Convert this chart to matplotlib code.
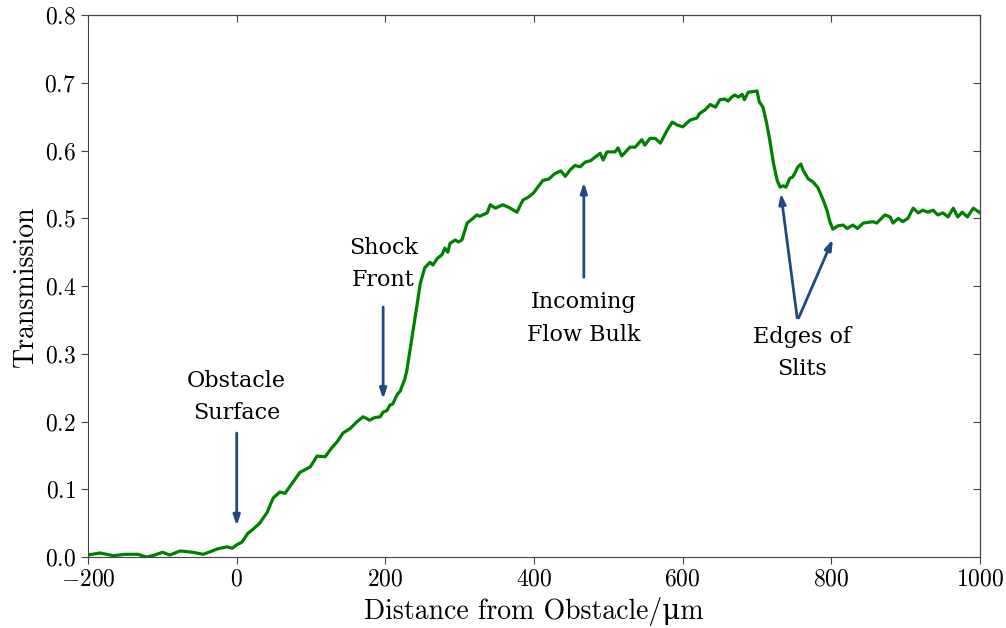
import matplotlib
matplotlib.use("Agg")
import matplotlib.pyplot as plt

plt.rcParams['font.family'] = ['cmr10', 'DejaVu Serif']
plt.rcParams['mathtext.fontset'] = 'cm'
plt.rcParams['axes.formatter.use_mathtext'] = True

# transmission profile along the flow axis
distance = [-200, -184, -166, -150, -133, -121, -110, -100, -90, -76, -59, -45,
            -26, -13, -6, 0, 7, 15, 23, 31, 41, 49, 58, 65, 76, 85, 99, 108,
            119, 127, 135, 143, 153, 162, 170, 179, 186, 193, 197, 202, 206,
            210, 216, 220, 222, 226, 229, 236, 243, 247, 253, 260, 264, 270,
            276, 280, 284, 287, 294, 298, 303, 310, 318, 323, 327, 337, 341,
            348, 358, 368, 377, 385, 392, 399, 405, 412, 420, 428, 436, 442,
            449, 455, 462, 469, 476, 482, 489, 493, 498, 509, 513, 518, 529,
            536, 545, 549, 556, 563, 570, 579, 586, 592, 600, 610, 619, 623,
            630, 637, 644, 650, 657, 661, 666, 670, 675, 680, 683, 688, 700,
            703, 708, 713, 717, 722, 727, 731, 735, 739, 744, 748, 751, 755,
            759, 762, 769, 775, 782, 789, 794, 798, 802, 809, 816, 821, 829,
            835, 843, 856, 861, 872, 879, 883, 890, 896, 903, 910, 917, 923,
            930, 937, 943, 950, 957, 964, 970, 976, 983, 991, 1000]
transmission = [0.003, 0.006, 0.002, 0.004, 0.004, 0.0, 0.003, 0.007, 0.003,
                0.009, 0.007, 0.004, 0.012, 0.015, 0.013, 0.018, 0.022, 0.035,
                0.042, 0.05, 0.066, 0.087, 0.096, 0.094, 0.111, 0.125, 0.133,
                0.149, 0.148, 0.16, 0.17, 0.183, 0.19, 0.2, 0.207, 0.202,
                0.206, 0.207, 0.214, 0.216, 0.224, 0.226, 0.24, 0.245, 0.251,
                0.262, 0.276, 0.325, 0.375, 0.404, 0.427, 0.435, 0.431, 0.441,
                0.446, 0.456, 0.45, 0.463, 0.468, 0.465, 0.468, 0.493, 0.5,
                0.505, 0.503, 0.508, 0.52, 0.515, 0.52, 0.515, 0.509, 0.527,
                0.531, 0.537, 0.546, 0.556, 0.558, 0.566, 0.57, 0.562, 0.572,
                0.578, 0.576, 0.583, 0.585, 0.59, 0.596, 0.586, 0.598, 0.598,
                0.604, 0.592, 0.605, 0.605, 0.616, 0.608, 0.618, 0.618, 0.611,
                0.63, 0.642, 0.638, 0.635, 0.645, 0.648, 0.655, 0.66, 0.668,
                0.664, 0.675, 0.676, 0.673, 0.679, 0.682, 0.679, 0.683, 0.675,
                0.686, 0.688, 0.672, 0.664, 0.64, 0.616, 0.582, 0.556, 0.546,
                0.548, 0.546, 0.559, 0.561, 0.567, 0.576, 0.58, 0.571, 0.558,
                0.554, 0.545, 0.527, 0.512, 0.495, 0.484, 0.489, 0.49, 0.485,
                0.49, 0.485, 0.493, 0.495, 0.493, 0.505, 0.502, 0.493, 0.5,
                0.495, 0.5, 0.515, 0.508, 0.512, 0.509, 0.512, 0.505, 0.508,
                0.502, 0.515, 0.502, 0.509, 0.502, 0.515, 0.508]

# annotation labels: text, text position, arrow tails and heads
labels = ["Obstacle\nSurface", "Shock\nFront", "Incoming\nFlow Bulk", "Edges of\nSlits"]
label_pos = [(0, 0.236), (197, 0.432), (467, 0.352), (760, 0.301)]
arrows = [((0, 0.183), (0, 0.046)),
          ((197, 0.369), (197, 0.233)),
          ((467, 0.413), (467, 0.553)),
          ((754, 0.353), (732, 0.537)),
          ((756, 0.353), (802, 0.469))]

arrow_color = '#22497f'

fig = plt.figure(figsize=(10.06, 6.28), dpi=100)
ax = fig.add_axes([0.0875, 0.113, 0.8867, 0.863])

ax.plot(distance, transmission, color='green', lw=2.3)

for text, (tx, ty) in zip(labels, label_pos):
    ax.text(tx, ty, text, ha='center', va='center', fontsize=16,
            family='DejaVu Serif', linespacing=1.6)
for (x0, y0), (x1, y1) in arrows:
    ax.annotate('', xy=(x1, y1), xytext=(x0, y0),
                arrowprops=dict(arrowstyle='-|>,head_length=0.6,head_width=0.2',
                                color=arrow_color, lw=2, shrinkA=0, shrinkB=0))

ax.set_xlim(-200, 1000)
ax.set_ylim(0, 0.8)
ax.set_xlabel('Distance from Obstacle/\u03bcm', fontsize=20)
ax.set_ylabel('Transmission', fontsize=20)
ax.tick_params(direction='out', length=5, labelsize=17, color='#444444')

for side in ax.spines:
    ax.spines[side].set_color('#444444')

# inward ticks on the top and right edges
top = ax.secondary_xaxis('top')
top.tick_params(direction='in', length=5, labeltop=False, color='#444444')
right = ax.secondary_yaxis('right')
right.tick_params(direction='in', length=5, labelright=False, color='#444444')

fig.savefig('out.png', dpi=100)
